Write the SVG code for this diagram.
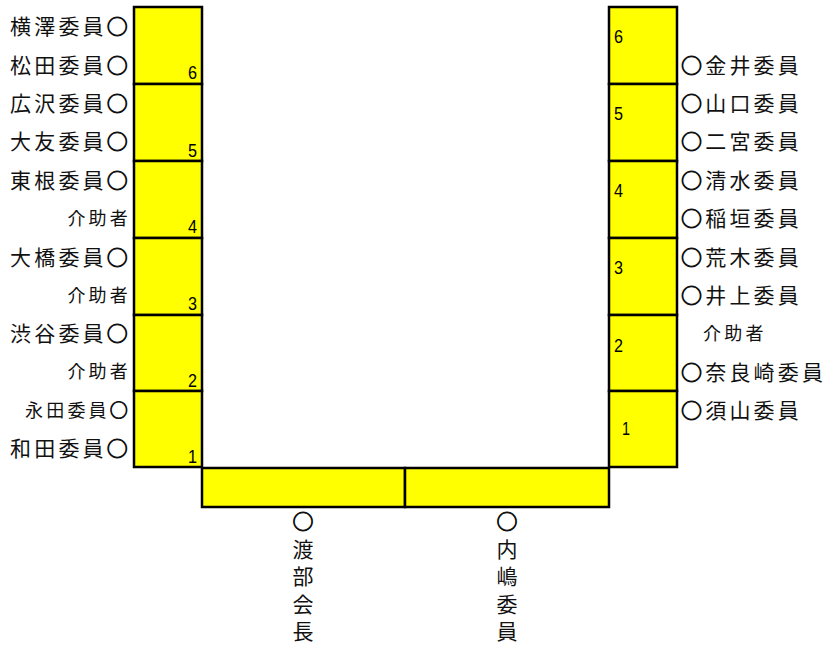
<svg xmlns="http://www.w3.org/2000/svg" width="826" height="646" viewBox="0 0 826 646">
<style>
.seat{fill:#ffff00;stroke:#000;stroke-width:2.5}
.lbl{font-family:"Noto Sans CJK JP","Noto Sans",sans-serif;font-size:21px;letter-spacing:3.2px;fill:#111}
.sm{font-size:18px;letter-spacing:3.2px}
.c{stroke:#111;stroke-width:0.9}
.num{font-family:"Liberation Sans","DejaVu Sans",sans-serif;font-size:19px;fill:#000}
.v{font-family:"Noto Sans CJK JP","Noto Sans",sans-serif;font-size:21px;fill:#111;letter-spacing:6.5px;writing-mode:vertical-rl}
.z{letter-spacing:0}
.l{text-anchor:end}
</style>
<rect width="826" height="646" fill="#fff"/>
<g id="left-seats">
<g id="L6"><rect class="seat" x="134" y="7" width="68" height="77"/><text class="num" x="197" y="79" text-anchor="end" textLength="9" lengthAdjust="spacingAndGlyphs">6</text></g>
<g id="L5"><rect class="seat" x="134" y="84" width="68" height="77"/><text class="num" x="197" y="157" text-anchor="end" textLength="9" lengthAdjust="spacingAndGlyphs">5</text></g>
<g id="L4"><rect class="seat" x="134" y="161" width="68" height="77"/><text class="num" x="197" y="233" text-anchor="end" textLength="9" lengthAdjust="spacingAndGlyphs">4</text></g>
<g id="L3"><rect class="seat" x="134" y="238" width="68" height="77"/><text class="num" x="197" y="310" text-anchor="end" textLength="9" lengthAdjust="spacingAndGlyphs">3</text></g>
<g id="L2"><rect class="seat" x="134" y="315" width="68" height="76"/><text class="num" x="197" y="387" text-anchor="end" textLength="9" lengthAdjust="spacingAndGlyphs">2</text></g>
<g id="L1"><rect class="seat" x="134" y="391" width="68" height="76"/><text class="num" x="197" y="463" text-anchor="end" textLength="9" lengthAdjust="spacingAndGlyphs">1</text></g>
</g>
<g id="right-seats">
<g id="R6"><rect class="seat" x="609" y="7" width="68" height="77"/><text class="num" x="614" y="43" textLength="9" lengthAdjust="spacingAndGlyphs">6</text></g>
<g id="R5"><rect class="seat" x="609" y="84" width="68" height="77"/><text class="num" x="614" y="120" textLength="9" lengthAdjust="spacingAndGlyphs">5</text></g>
<g id="R4"><rect class="seat" x="609" y="161" width="68" height="77"/><text class="num" x="614" y="197" textLength="9" lengthAdjust="spacingAndGlyphs">4</text></g>
<g id="R3"><rect class="seat" x="609" y="238" width="68" height="77"/><text class="num" x="614" y="274" textLength="9" lengthAdjust="spacingAndGlyphs">3</text></g>
<g id="R2"><rect class="seat" x="609" y="315" width="68" height="76"/><text class="num" x="614" y="352" textLength="9" lengthAdjust="spacingAndGlyphs">2</text></g>
<g id="R1"><rect class="seat" x="609" y="391" width="68" height="76"/><text class="num" x="622" y="435" textLength="8" lengthAdjust="spacingAndGlyphs">1</text></g>
</g>
<g id="front-seats">
<g id="F1"><rect class="seat" x="202" y="468" width="203" height="39"/></g>
<g id="F2"><rect class="seat" x="405" y="468" width="204" height="39"/></g>
</g>
<g id="left-labels">
<text class="lbl l" x="131" y="34">横澤委員<tspan class="c">○</tspan></text>
<text class="lbl l" x="131" y="73">松田委員<tspan class="c">○</tspan></text>
<text class="lbl l" x="131" y="111">広沢委員<tspan class="c">○</tspan></text>
<text class="lbl l" x="131" y="149">大友委員<tspan class="c">○</tspan></text>
<text class="lbl l" x="131" y="188">東根委員<tspan class="c">○</tspan></text>
<text class="lbl sm l" x="131" y="225">介助者</text>
<text class="lbl l" x="131" y="265">大橋委員<tspan class="c">○</tspan></text>
<text class="lbl sm l" x="131" y="302">介助者</text>
<text class="lbl l" x="131" y="341">渋谷委員<tspan class="c">○</tspan></text>
<text class="lbl sm l" x="131" y="378">介助者</text>
<text class="lbl sm l" x="131" y="417">永田委員<tspan class="c">○</tspan></text>
<text class="lbl l" x="131" y="456">和田委員<tspan class="c">○</tspan></text>
</g>
<g id="right-labels">
<text class="lbl" x="681" y="73"><tspan class="c">○</tspan>金井委員</text>
<text class="lbl" x="681" y="111"><tspan class="c">○</tspan>山口委員</text>
<text class="lbl" x="681" y="149"><tspan class="c">○</tspan>二宮委員</text>
<text class="lbl" x="681" y="188"><tspan class="c">○</tspan>清水委員</text>
<text class="lbl" x="681" y="226"><tspan class="c">○</tspan>稲垣委員</text>
<text class="lbl" x="681" y="265"><tspan class="c">○</tspan>荒木委員</text>
<text class="lbl" x="681" y="303"><tspan class="c">○</tspan>井上委員</text>
<text class="lbl sm" x="703" y="340">介助者</text>
<text class="lbl" x="681" y="380"><tspan class="c">○</tspan>奈良崎委員</text>
<text class="lbl" x="681" y="418"><tspan class="c">○</tspan>須山委員</text>
</g>
<g id="bottom-labels">
<text class="v" x="303" y="511"><tspan class="c">○</tspan>渡部会<tspan class="z">長</tspan></text>
<text class="v" x="507" y="511"><tspan class="c">○</tspan>内嶋委<tspan class="z">員</tspan></text>
</g>
</svg>
